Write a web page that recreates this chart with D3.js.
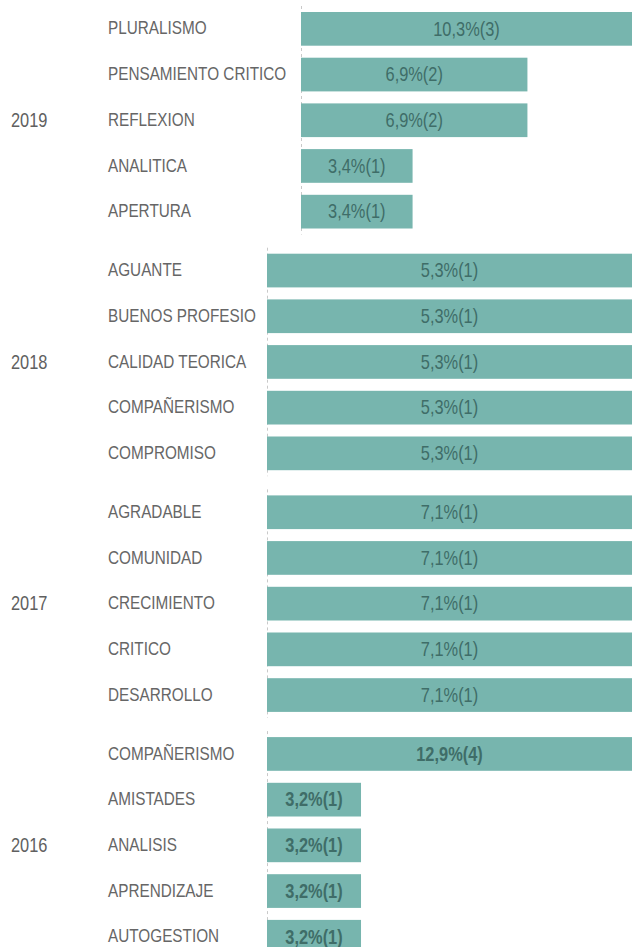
<!DOCTYPE html>
<html>
<head>
<meta charset="utf-8">
<script src="https://cdn.jsdelivr.net/npm/d3@7"></script>
<style>
  html, body { margin: 0; padding: 0; background: #fff; overflow: hidden; }
  svg { display: block; }
  text { font-family: "Liberation Sans", Arial, sans-serif; }
</style>
</head>
<body>
<svg id="chart"></svg>
<script>
// Years, one panel each, top to bottom
const years = ["2019", "2018", "2017", "2016"];

// Categories per year
const cats2019 = ["PLURALISMO", "PENSAMIENTO CRITICO", "REFLEXION", "ANALITICA", "APERTURA"];
const cats2018 = ["AGUANTE", "BUENOS PROFESIO", "CALIDAD TEORICA", "COMPAÑERISMO", "COMPROMISO"];
const cats2017 = ["AGRADABLE", "COMUNIDAD", "CRECIMIENTO", "CRITICO", "DESARROLLO"];
const cats2016 = ["COMPAÑERISMO", "AMISTADES", "ANALISIS", "APRENDIZAJE", "AUTOGESTION"];

// Share of mentions (%) per category
const pct2019 = [10.3, 6.9, 6.9, 3.4, 3.4];
const pct2018 = [5.3, 5.3, 5.3, 5.3, 5.3];
const pct2017 = [7.1, 7.1, 7.1, 7.1, 7.1];
const pct2016 = [12.9, 3.2, 3.2, 3.2, 3.2];

// Number of mentions per category
const n2019 = [3, 2, 2, 1, 1];
const n2018 = [1, 1, 1, 1, 1];
const n2017 = [1, 1, 1, 1, 1];
const n2016 = [4, 1, 1, 1, 1];

const panels = [
  { year: years[0], cats: cats2019, pct: pct2019, n: n2019 },
  { year: years[1], cats: cats2018, pct: pct2018, n: n2018 },
  { year: years[2], cats: cats2017, pct: pct2017, n: n2017 },
  { year: years[3], cats: cats2016, pct: pct2016, n: n2016 }
];

// Layout
const W = 632, H = 947;
const barStart = [301, 267, 267, 267];   // left edge of bars per panel
const barFull  = [639, 646, 646, 646];   // where each panel's maximum would end
const boldValues = [false, false, false, true];
const NARROW = 0.82;                      // condensed lettering

const svg = d3.select("#chart").attr("width", W).attr("height", H);

svg.append("defs").append("clipPath").attr("id", "plotClip")
  .append("rect").attr("x", 0).attr("y", 0).attr("width", W).attr("height", H);

const locale = d3.formatLocale({ decimal: ",", thousands: ".", grouping: [3], currency: ["", "€"] });
const fmt = locale.format(".1f");

const yPanel = d3.scaleBand()
  .domain(years)
  .range([6, 6 + 4 * 241.7 - 13.2])
  .paddingInner(0.0546)
  .paddingOuter(0);

const root = svg.append("g").attr("clip-path", "url(#plotClip)");

// narrow text: placed at (x, y) and squeezed horizontally around its anchor
function place(sel, fx, fy) {
  return sel.attr("transform", (d, k) =>
    `translate(${fx(d, k)},${fy(d, k)}) scale(${NARROW},1)`);
}

panels.forEach((p, i) => {
  const g = root.append("g");
  const y0 = yPanel(p.year);
  const y = d3.scaleBand()
    .domain(p.cats.map((c, j) => j))
    .range([y0, y0 + yPanel.bandwidth()])
    .paddingInner(0.2625)
    .paddingOuter(0.13125);

  const x = d3.scaleLinear()
    .domain([0, d3.max(p.pct)])
    .range([barStart[i], barFull[i]]);

  // dashed baseline
  g.append("line")
    .attr("x1", x(0) + 0.5).attr("x2", x(0) + 0.5)
    .attr("y1", y0).attr("y2", y0 + yPanel.bandwidth())
    .attr("stroke", "#c9c9c9")
    .attr("stroke-width", 1)
    .attr("stroke-dasharray", "3,3");

  // year label
  place(g.append("text").datum(p.year), () => 11, () => y(2) + y.bandwidth() / 2)
    .attr("dy", "0.33em")
    .attr("font-size", 20)
    .attr("fill", "#606060")
    .text(d => d);

  const rows = p.cats.map((c, j) => ({ c, j, v: p.pct[j], n: p.n[j] }));

  // category labels
  place(g.selectAll("text.cat").data(rows).join("text").attr("class", "cat"),
        () => 108, d => y(d.j) + y.bandwidth() / 2)
    .attr("dy", "0.3em")
    .attr("font-size", 18.67)
    .attr("fill", "#666666")
    .text(d => d.c);

  // bars
  g.selectAll("rect.bar").data(rows).join("rect")
    .attr("class", "bar")
    .attr("x", x(0))
    .attr("y", d => y(d.j))
    .attr("width", d => x(d.v) - x(0))
    .attr("height", y.bandwidth())
    .attr("fill", "#77b5ae");

  // value labels, centred on the visible part of each bar
  place(g.selectAll("text.val").data(rows).join("text").attr("class", "val"),
        d => (x(0) + Math.min(x(d.v), W)) / 2, d => y(d.j) + y.bandwidth() / 2)
    .attr("dy", "0.34em")
    .attr("text-anchor", "middle")
    .attr("font-size", 20)
    .attr("font-weight", boldValues[i] ? "bold" : "normal")
    .attr("fill", "#3f6d68")
    .text(d => fmt(d.v) + "%(" + d.n + ")");
});
</script>
</body>
</html>
